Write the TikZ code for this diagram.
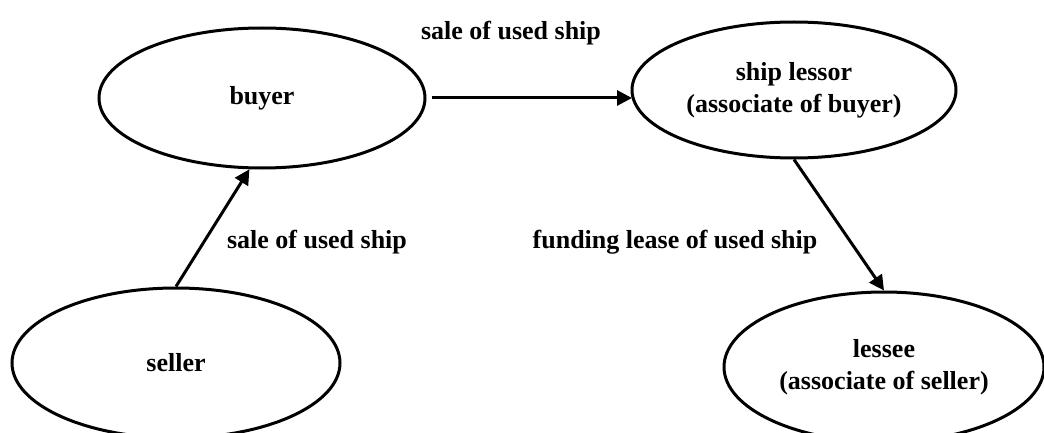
\documentclass[tikz,border=0pt]{standalone}
\usepackage{fontspec}
\setmainfont{Liberation Serif}
\usetikzlibrary{shapes.geometric,arrows.meta}
\begin{document}
\begin{tikzpicture}[x=1pt,y=1pt,
  party/.style={ellipse,draw,line width=3pt,inner sep=0pt,align=center,
    font=\fontsize{26}{32}\selectfont\bfseries},
  flow/.style={line width=3pt,-{Triangle[length=15pt,width=15pt]}},
  lbl/.style={font=\fontsize{26}{32}\selectfont\bfseries,inner sep=0pt}]
\useasboundingbox (0,0) rectangle (1044,432);
\node[party,minimum width=326pt,minimum height=140pt] (buyer) at (262,334) {buyer};
\node[party,minimum width=324pt,minimum height=136pt] (lessor) at (794,342) {ship lessor\\(associate of buyer)};
\node[party,minimum width=328pt,minimum height=150pt] (seller) at (176,69) {seller};
\node[party,minimum width=320pt,minimum height=150pt] (lessee) at (884,65) {lessee\\(associate of seller)};
\coordinate (bE) at ([xshift=5pt]buyer.east |- 0,334);
\coordinate (lW) at (632,334);
\draw[flow] (bE) -- (lW);
\draw[flow] (seller.north) -- (buyer.260);
\draw[flow] (lessor.south) -- (lessee.north);
\node[lbl] (l1) at (511,399) {sale of used ship};
\node[lbl] (l2) at (317,190) {sale of used ship};
\node[lbl] (l3) at (675,190) {funding lease of used ship};
\end{tikzpicture}
\end{document}
